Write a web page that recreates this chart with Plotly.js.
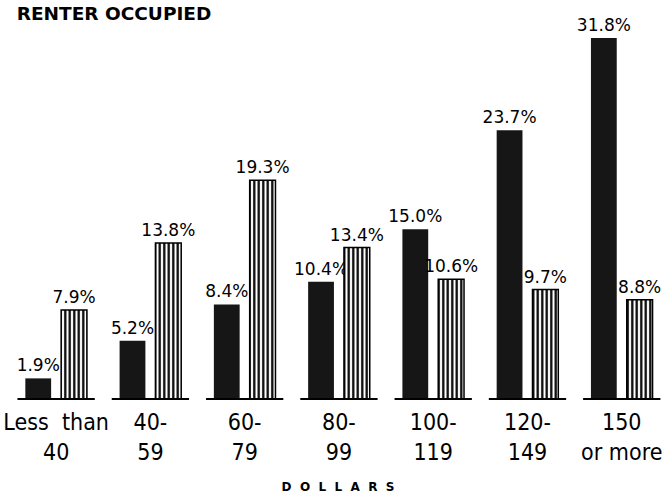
<!DOCTYPE html>
<html>
<head>
<meta charset="utf-8">
<script src="https://cdn.plot.ly/plotly-3.0.1.min.js"></script>
<style>html,body{margin:0;padding:0;background:#fff;}#chart{width:667px;height:498px;}</style>
</head>
<body>
<div id="chart"></div>
<script>
var categories = ["Less\u00a0\u00a0than<br>40", "40-<br>59", "60-<br>79", "80-<br>99", "100-<br>119", "120-<br>149", "150<br>or more"];
var seriesA = [1.9, 5.2, 8.4, 10.4, 15.0, 23.7, 31.8];
var seriesB = [7.9, 13.8, 19.3, 13.4, 10.6, 9.7, 8.8];
var labelsA = seriesA.map(function(v){ return v.toFixed(1) + "%"; });
var labelsB = seriesB.map(function(v){ return v.toFixed(1) + "%"; });

var labelFont = {family: "DejaVu Sans, Arial, sans-serif", size: 17, color: "#000"};

var traceA = {
  type: "bar", x: categories, y: seriesA, text: labelsA,
  textposition: "outside", cliponaxis: false, constraintext: "none",
  textfont: labelFont,
  marker: {color: "#161616", line: {color: "#000", width: 0}},
  hoverinfo: "skip"
};
var traceB = {
  type: "bar", x: categories, y: seriesB, text: labelsB,
  textposition: "outside", cliponaxis: false, constraintext: "none",
  textfont: labelFont,
  marker: {color: "#fff",
    pattern: {shape: "|", fgcolor: "#000", bgcolor: "#fff", size: 4.5, solidity: 0.5},
    line: {color: "#000", width: 1.5}},
  hoverinfo: "skip"
};

var shapes = categories.map(function(c, i){
  return {type: "line", xref: "x", yref: "y", x0: i - 0.41, x1: i + 0.41, y0: 0, y1: 0,
          line: {color: "#000", width: 4}};
});

var layout = {
  width: 667, height: 498,
  margin: {l: 9, r: 0, t: 0, b: 98},
  paper_bgcolor: "#fff", plot_bgcolor: "#fff",
  showlegend: false,
  barmode: "group", bargap: 0.24, bargroupgap: 0.28,
  title: {text: "<b>RENTER OCCUPIED</b>", x: 0.025, xanchor: "left", xref: "container",
          y: 0.972, yanchor: "middle", yref: "container",
          font: {family: "DejaVu Sans, Arial, sans-serif", size: 18.5, color: "#000"}},
  xaxis: {type: "category", range: [-0.5, 6.48], showgrid: false, zeroline: false,
          showline: false, ticks: "", automargin: false, ticklabelstandoff: 6,
          tickfont: {family: "Liberation Sans Narrow, DejaVu Sans Condensed, Roboto Condensed, Roboto, sans-serif", size: 23, color: "#000"},
          title: {text: "<b>D\u00a0\u00a0O\u00a0\u00a0L\u00a0\u00a0L\u00a0\u00a0A\u00a0\u00a0R\u00a0\u00a0S</b>", standoff: 18,
                  font: {family: "DejaVu Sans, Arial, sans-serif", size: 12, color: "#000"}}},
  yaxis: {range: [0, 35.15], visible: false, showgrid: false, zeroline: false},
  shapes: shapes
};

Plotly.newPlot("chart", [traceA, traceB], layout, {displayModeBar: false, staticPlot: true});
</script>
</body>
</html>
